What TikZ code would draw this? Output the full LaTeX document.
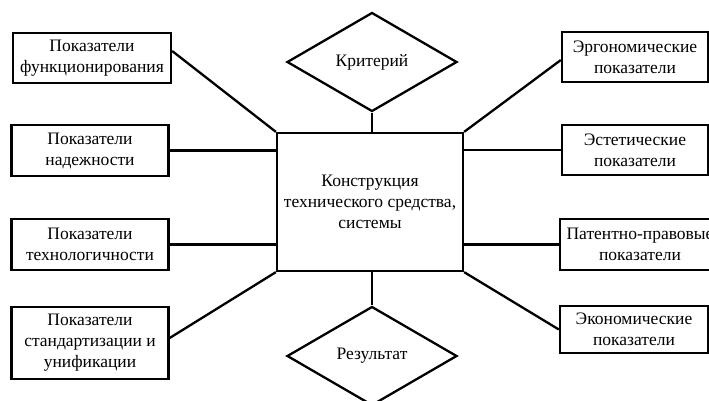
\documentclass[tikz,border=0pt]{standalone}
\usepackage{fontspec}
\setmainfont{Liberation Serif}
\usetikzlibrary{shapes.geometric}

\begin{document}
\begin{tikzpicture}[
    x=1pt,
    y=-1pt,
    line width=2.3pt,
    indicator/.style={
        draw,
        rectangle,
        minimum width=158pt,
        minimum height=50pt,
        inner sep=1pt,
        align=center,
        font=\fontsize{17.5}{21}\selectfont
    },
    centerbox/.style={
        draw,
        rectangle,
        minimum width=186pt,
        minimum height=138pt,
        align=center,
        font=\fontsize{17.5}{21}\selectfont
    },
    decision/.style={
        draw,
        diamond,
        inner sep=0pt,
        minimum width=170pt,
        minimum height=99pt,
        font=\fontsize{17.5}{21}\selectfont
    },
    link/.style={
        -,
        line width=2.3pt
    }
]

% Horizontal positions of the two columns
\def\LeftX{90}
\def\RightX{635}

\useasboundingbox (0,0) rectangle (709,400);

% ==================================================
% Centre
% ==================================================

\node[centerbox] (constr) at (370,202)
    {Конструкция\\технического средства,\\системы};

\node[decision] (crit) at (372,62) {Критерий};

\node[decision] (result) at (372,356) {Результат};

% ==================================================
% Left column
% ==================================================

\node[indicator] (func) at (92,58)
    {Показатели\\функционирования};

\node[indicator, minimum width=157pt, minimum height=51pt] (rel) at (\LeftX,150.5)
    {Показатели\\надежности};

\node[indicator, minimum width=157pt, minimum height=51pt] (tech) at (\LeftX,244.5)
    {Показатели\\технологичности};

\node[indicator, minimum width=157pt, minimum height=72pt] (std) at (\LeftX,343)
    {Показатели\\стандартизации и\\унификации};

% ==================================================
% Right column
% ==================================================

\node[indicator, minimum width=146pt] (ergo) at (\RightX,57)
    {Эргономические\\показатели};

\node[indicator, minimum width=146pt] (aesth) at (\RightX,150)
    {Эстетические\\показатели};

\node[indicator, minimum width=160pt, minimum height=51pt] (patent) at (640,244.5)
    {Патентно-правовые\\показатели};

\node[indicator, minimum width=148pt, minimum height=47pt] (econ) at (634,329.5)
    {Экономические\\показатели};

% ==================================================
% Links
% ==================================================

% Criterion and result
\draw[link] (crit.south) -- (crit.south |- constr.north);
\draw[link] (result.north |- constr.south) -- (result.north);

% Left side
\draw[link] ([yshift=7pt]func.east) -- (constr.north west);
\draw[link] (rel.east) -- (rel.east -| constr.west);
\draw[link] (tech.east) -- (tech.east -| constr.west);
\draw[link] ([yshift=5pt]std.east) -- (constr.south west);

% Right side
\draw[link] (constr.north east) -- ([yshift=-3pt]ergo.west);
\draw[link] (aesth.west -| constr.east) -- (aesth.west);
\draw[link] (patent.west -| constr.east) -- (patent.west);
\draw[link] (constr.south east) -- (econ.west);

\end{tikzpicture}
\end{document}
